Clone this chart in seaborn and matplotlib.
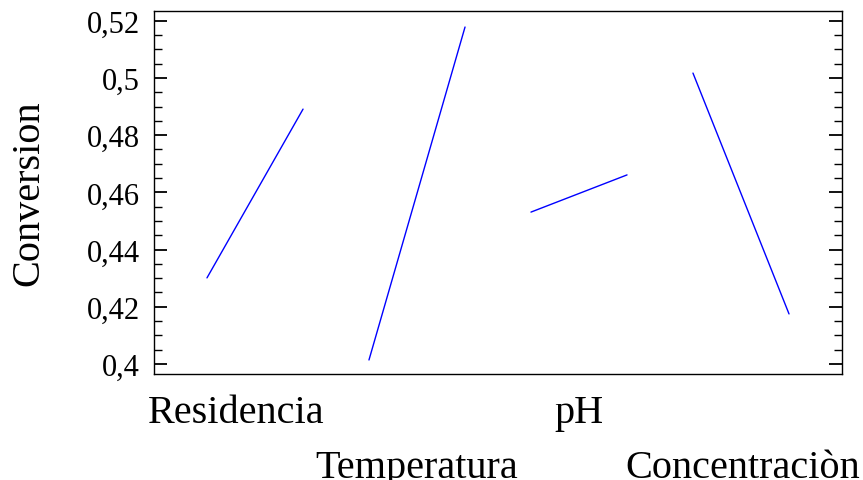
import matplotlib
matplotlib.use("Agg")
import matplotlib.pyplot as plt
import matplotlib.transforms as mtransforms
from matplotlib.ticker import MultipleLocator, FuncFormatter
import numpy as np
import pandas as pd
import seaborn as sns

# ---- data ----
factors = ["Residencia", "Temperatura", "pH", "Concentraciòn"]
low_values = [0.4301, 0.4014, 0.4531, 0.5017]
high_values = [0.4891, 0.5178, 0.4661, 0.4175]
y_ticks = [0.40, 0.42, 0.44, 0.46, 0.48, 0.50, 0.52]

sns.set_style("white")
plt.rcParams["font.family"] = ["Liberation Serif", "DejaVu Serif"]
plt.rcParams["text.color"] = "black"
plt.rcParams["axes.labelcolor"] = "black"
plt.rcParams["ytick.color"] = "black"

# layout positions (not data): each factor drawn from x=i to x=i+width
seg_width = 0.593
rows = []
for i, (f, lo, hi) in enumerate(zip(factors, low_values, high_values)):
    rows.append({"factor": f, "x": i, "y": lo})
    rows.append({"factor": f, "x": i + seg_width, "y": hi})
df = pd.DataFrame(rows)

fig = plt.figure(figsize=(8.63, 4.81), dpi=100)
ax = fig.add_axes([154 / 863, 1 - 375 / 481, (842 - 154) / 863, (375 - 12) / 481])

for f in factors:
    sns.lineplot(data=df[df["factor"] == f], x="x", y="y", ax=ax,
                 color="#0000ff", linewidth=1.0, legend=False)

ax.set_xlim(-0.327, 3.92)
ax.set_ylim(0.3965, 0.5234)
ax.set_xticks([])
ax.set_yticks(y_ticks)
ax.yaxis.set_minor_locator(MultipleLocator(0.005))
ax.yaxis.set_major_formatter(FuncFormatter(lambda v, p: f"{v:g}".replace(".", ",")))
ax.tick_params(axis="y", which="major", direction="in", length=9.5, width=1.3,
               left=True, right=True, labelsize=22, pad=10, colors="black",
               labelcolor="black")
ax.tick_params(axis="y", which="minor", direction="in", length=5.5, width=1.0,
               left=True, right=True)
for s in ax.spines.values():
    s.set_color("black")
    s.set_linewidth(1.0)

ax.set_xlabel("")
ax.set_ylabel("Conversion", fontsize=29, color="black")
ax.yaxis.set_label_coords(-0.155, 0.5)

# staggered factor labels
trans = mtransforms.blended_transform_factory(ax.transData, fig.transFigure)
label_x = [0.18, 1 + seg_width / 2, 2 + seg_width / 2, 3 + seg_width / 2 + 0.01]
label_y = [1 - 423 / 481, 1 - 478 / 481, 1 - 423 / 481, 1 - 478 / 481]
for f, lx, ly in zip(factors, label_x, label_y):
    ax.text(lx, ly, f, transform=trans, ha="center", va="baseline", fontsize=29,
            color="black", clip_on=False)

fig.savefig("out.png", dpi=100)
